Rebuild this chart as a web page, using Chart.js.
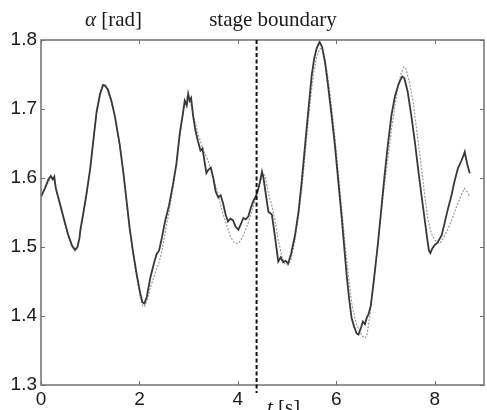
<!DOCTYPE html>
<html>
<head>
<meta charset="utf-8">
<script src="https://cdn.jsdelivr.net/npm/chart.js@4.4.1/dist/chart.umd.min.js"></script>
<style>
html,body{margin:0;padding:0;background:#fff;}
#wrap{width:487px;height:410px;}
</style>
</head>
<body>
<div id="wrap"><canvas id="c" width="487" height="410"></canvas></div>
<script>
// ---- data ----
const measuredT = [0.00,0.08,0.15,0.20,0.24,0.27,0.30,0.35,0.45,0.55,0.63,0.69,0.74,0.78,0.80,0.85,0.92,1.00,1.08,1.13,1.20,1.26,1.30,1.36,1.43,1.50,1.60,1.67,1.74,1.80,1.87,1.94,2.01,2.06,2.10,2.15,2.22,2.30,2.35,2.40,2.46,2.52,2.60,2.68,2.75,2.82,2.88,2.92,2.96,2.99,3.02,3.05,3.09,3.14,3.19,3.24,3.28,3.32,3.36,3.40,3.45,3.50,3.55,3.60,3.65,3.70,3.75,3.80,3.85,3.90,3.95,4.01,4.06,4.11,4.16,4.21,4.26,4.31,4.36,4.40,4.45,4.49,4.52,4.57,4.62,4.69,4.75,4.82,4.87,4.92,4.97,5.02,5.08,5.16,5.23,5.29,5.34,5.39,5.45,5.50,5.55,5.60,5.66,5.71,5.77,5.83,5.90,5.97,6.04,6.11,6.16,6.21,6.26,6.31,6.36,6.41,6.45,6.50,6.54,6.58,6.62,6.65,6.70,6.76,6.85,6.92,6.98,7.05,7.12,7.19,7.26,7.30,7.34,7.38,7.45,7.53,7.60,7.66,7.73,7.80,7.85,7.88,7.91,7.95,8.00,8.05,8.10,8.14,8.20,8.27,8.34,8.40,8.47,8.54,8.58,8.61,8.63,8.66,8.71];
const measuredAlpha = [1.573,1.585,1.598,1.603,1.598,1.602,1.585,1.572,1.545,1.518,1.502,1.496,1.500,1.512,1.525,1.545,1.575,1.614,1.665,1.696,1.722,1.735,1.734,1.728,1.712,1.690,1.648,1.610,1.566,1.528,1.493,1.462,1.435,1.420,1.418,1.428,1.455,1.478,1.490,1.495,1.515,1.537,1.560,1.590,1.620,1.665,1.692,1.712,1.705,1.722,1.712,1.716,1.690,1.668,1.653,1.640,1.643,1.625,1.607,1.612,1.615,1.600,1.580,1.572,1.575,1.563,1.547,1.537,1.541,1.539,1.530,1.525,1.533,1.542,1.540,1.544,1.556,1.566,1.573,1.580,1.595,1.609,1.600,1.575,1.551,1.547,1.517,1.479,1.485,1.478,1.480,1.476,1.490,1.517,1.550,1.590,1.628,1.667,1.712,1.749,1.773,1.788,1.797,1.790,1.768,1.735,1.693,1.648,1.595,1.542,1.500,1.459,1.425,1.397,1.385,1.375,1.373,1.383,1.392,1.388,1.398,1.402,1.415,1.450,1.508,1.560,1.604,1.650,1.691,1.718,1.735,1.742,1.747,1.745,1.725,1.687,1.650,1.614,1.575,1.537,1.510,1.495,1.491,1.498,1.503,1.506,1.512,1.517,1.535,1.556,1.575,1.595,1.614,1.625,1.632,1.638,1.630,1.620,1.607];

const modelT = [0.00,0.10,0.20,0.27,0.35,0.45,0.55,0.63,0.69,0.74,0.80,0.85,0.92,1.00,1.08,1.13,1.20,1.27,1.33,1.43,1.50,1.60,1.67,1.74,1.80,1.87,1.94,2.01,2.07,2.11,2.16,2.22,2.30,2.40,2.46,2.52,2.60,2.68,2.75,2.82,2.90,2.97,3.02,3.10,3.19,3.30,3.40,3.50,3.60,3.68,3.77,3.85,3.92,3.97,4.03,4.09,4.14,4.21,4.28,4.34,4.40,4.46,4.52,4.56,4.62,4.69,4.75,4.82,4.90,4.96,5.02,5.08,5.16,5.23,5.30,5.36,5.42,5.48,5.54,5.60,5.66,5.71,5.77,5.83,5.90,5.97,6.04,6.11,6.18,6.25,6.32,6.40,6.48,6.54,6.58,6.62,6.68,6.74,6.81,6.88,6.96,7.05,7.12,7.19,7.26,7.32,7.37,7.41,7.48,7.56,7.64,7.73,7.80,7.86,7.93,8.00,8.05,8.10,8.17,8.27,8.35,8.44,8.52,8.60,8.66,8.71];
const modelAlpha = [1.573,1.588,1.600,1.598,1.570,1.543,1.516,1.500,1.494,1.498,1.520,1.543,1.573,1.612,1.663,1.694,1.720,1.735,1.731,1.710,1.688,1.646,1.608,1.563,1.525,1.490,1.458,1.430,1.414,1.414,1.424,1.440,1.458,1.478,1.495,1.520,1.550,1.585,1.620,1.660,1.700,1.718,1.715,1.690,1.664,1.640,1.624,1.600,1.575,1.552,1.532,1.515,1.507,1.505,1.507,1.514,1.522,1.535,1.551,1.565,1.580,1.597,1.606,1.600,1.578,1.560,1.540,1.510,1.485,1.475,1.474,1.482,1.510,1.545,1.585,1.630,1.675,1.718,1.752,1.775,1.787,1.788,1.772,1.745,1.705,1.660,1.608,1.555,1.502,1.455,1.415,1.390,1.377,1.370,1.368,1.372,1.400,1.440,1.483,1.530,1.580,1.630,1.670,1.705,1.735,1.752,1.761,1.759,1.740,1.711,1.665,1.614,1.572,1.540,1.520,1.510,1.507,1.505,1.512,1.527,1.540,1.558,1.572,1.585,1.580,1.573];

const xTickValues = [0, 2, 4, 6, 8];
const yTickValues = [1.3, 1.4, 1.5, 1.6, 1.7, 1.8];
const stageBoundaryT = [4.38];
const yAxisLabel = ['α', ' [rad]'];
const xAxisLabel = ['t', ' [s]'];
const boundaryLabel = 'stage boundary';

// ---- build chart ----
const toPts = (xs, ys) => xs.map((x, i) => ({x: x, y: ys[i]}));

const frameAndDecor = {
  id: 'frameAndDecor',
  afterDatasetsDraw(chart) {
    const {ctx, chartArea: a, scales: {x, y}} = chart;
    ctx.save();
    // frame
    ctx.strokeStyle = '#707070';
    ctx.lineWidth = 1.5;
    ctx.strokeRect(a.left, a.top, a.right - a.left, a.bottom - a.top);
    // inward ticks
    ctx.lineWidth = 1;
    ctx.strokeStyle = '#707070';
    const tl = 4;
    ctx.beginPath();
    xTickValues.forEach(v => {
      const px = Math.round(x.getPixelForValue(v)) + 0.5;
      ctx.moveTo(px, a.bottom); ctx.lineTo(px, a.bottom - tl);
      ctx.moveTo(px, a.top); ctx.lineTo(px, a.top + tl);
    });
    yTickValues.forEach(v => {
      const py = Math.round(y.getPixelForValue(v)) + 0.5;
      ctx.moveTo(a.left, py); ctx.lineTo(a.left + tl, py);
      ctx.moveTo(a.right, py); ctx.lineTo(a.right - tl, py);
    });
    ctx.stroke();
    // stage boundary dashed line
    stageBoundaryT.forEach(t => {
      const px = x.getPixelForValue(t);
      ctx.beginPath();
      ctx.setLineDash([4, 2.5]);
      ctx.lineWidth = 2;
      ctx.strokeStyle = '#111';
      ctx.moveTo(px, a.top);
      ctx.lineTo(px, a.bottom + 8);
      ctx.stroke();
      ctx.setLineDash([]);
    });
    // texts
    const serif = '"Liberation Serif", "DejaVu Serif", serif';
    ctx.fillStyle = '#1a1a1a';
    ctx.textBaseline = 'alphabetic';
    ctx.textAlign = 'left';
    let cx = 85;
    ctx.font = 'italic 21px ' + serif;
    ctx.fillText(yAxisLabel[0], cx, 26);
    cx += ctx.measureText(yAxisLabel[0]).width;
    ctx.font = '21px ' + serif;
    ctx.fillText(yAxisLabel[1], cx, 26);

    ctx.textAlign = 'center';
    ctx.font = '21px ' + serif;
    ctx.fillText(boundaryLabel, 273, 26);

    ctx.textAlign = 'left';
    cx = 267;
    ctx.font = 'italic 21px ' + serif;
    ctx.fillText(xAxisLabel[0], cx, 414);
    cx += ctx.measureText(xAxisLabel[0]).width;
    ctx.font = '21px ' + serif;
    ctx.fillText(xAxisLabel[1], cx, 414);
    ctx.restore();
  }
};

const tickFont = {family: '"Liberation Sans", Arial, sans-serif', size: 19};

new Chart(document.getElementById('c'), {
  type: 'line',
  data: {
    datasets: [
      {
        label: 'measured',
        data: toPts(measuredT, measuredAlpha),
        borderColor: '#383838',
        borderWidth: 1.8,
        pointRadius: 0,
        tension: 0,
        fill: false
      },
      {
        label: 'model',
        data: toPts(modelT, modelAlpha),
        borderColor: '#9a9a9a',
        borderWidth: 1.2,
        borderDash: [2, 1.5],
        pointRadius: 0,
        tension: 0,
        fill: false
      }
    ]
  },
  options: {
    responsive: false,
    animation: false,
    devicePixelRatio: 1,
    layout: {padding: {top: 40, right: 3, left: 0, bottom: 0}},
    plugins: {legend: {display: false}, tooltip: {enabled: false}},
    scales: {
      x: {
        type: 'linear',
        min: 0, max: 9,
        afterBuildTicks(s) { s.ticks = xTickValues.map(v => ({value: v})); },
        afterFit(s) { s.height = 25; },
        grid: {display: false, drawTicks: false},
        border: {display: false},
        ticks: {padding: 3, color: '#1a1a1a', font: tickFont, maxRotation: 0,
                callback: v => String(v)}
      },
      y: {
        type: 'linear',
        min: 1.3, max: 1.8,
        afterBuildTicks(s) { s.ticks = yTickValues.map(v => ({value: v})); },
        afterFit(s) { s.width = 41; },
        grid: {display: false, drawTicks: false},
        border: {display: false},
        ticks: {padding: 4, color: '#1a1a1a', font: tickFont,
                callback: v => Number(v).toFixed(1)}
      }
    }
  },
  plugins: [frameAndDecor]
});
</script>
</body>
</html>
